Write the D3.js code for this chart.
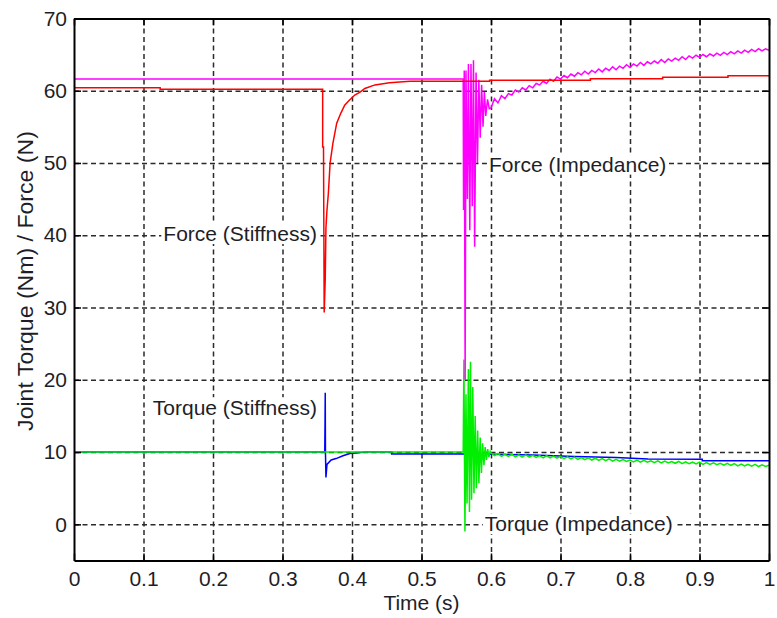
<!DOCTYPE html>
<html>
<head>
<meta charset="utf-8">
<script src="https://cdn.jsdelivr.net/npm/d3@7"></script>
<style>
  html, body { margin: 0; padding: 0; background: #fff; }
  svg text { font-family: Arial, "Liberation Sans", Helvetica, sans-serif; fill: #1e1e28; }
</style>
</head>
<body>
<svg id="chart" width="777" height="618"></svg>
<script>
// Axis ticks
const xTicks = [0, 0.1, 0.2, 0.3, 0.4, 0.5, 0.6, 0.7, 0.8, 0.9, 1];
const xTickLabels = ["0", "0.1", "0.2", "0.3", "0.4", "0.5", "0.6", "0.7", "0.8", "0.9", "1"];
const yTicks = [0, 10, 20, 30, 40, 50, 60, 70];
const yTickLabels = ["0", "10", "20", "30", "40", "50", "60", "70"];

// Force under stiffness control: [time (s), force (N)]
const forceStiffness = [
  [0, 60.4], [0.124, 60.4], [0.124, 60.2], [0.3578, 60.2], [0.3578, 52.2], [0.3590, 52.2],
  [0.3600, 29.3], [0.3615, 34.0], [0.3625, 41.0], [0.3640, 43.5], [0.3660, 45.8],
  [0.3685, 50.0], [0.3725, 52.7], [0.3780, 55.5], [0.3840, 56.9], [0.3895, 58.0],
  [0.3965, 58.7], [0.4040, 59.4], [0.4115, 59.8], [0.4185, 60.3], [0.4330, 60.8],
  [0.4540, 61.1], [0.4835, 61.3], [0.5980, 61.3], [0.5980, 61.45], [0.7430, 61.45],
  [0.7430, 61.65], [0.8470, 61.65], [0.8470, 61.85], [0.9410, 61.85], [0.9410, 62.05],
  [1.0, 62.05]
];

// Force under impedance control
const forceImpedance = [
  [0, 61.6], [0.5600, 61.6], [0.5605, 43.5], [0.5615, 62.8], [0.5628, 20.0], [0.5640, 62.8],
  [0.5660, 45.0], [0.5675, 63.7], [0.5695, 40.7], [0.5712, 63.7], [0.5730, 44.0],
  [0.5748, 64.2], [0.5765, 38.4], [0.5785, 62.5], [0.5805, 50.0], [0.5825, 61.5],
  [0.5845, 53.5], [0.5865, 60.8], [0.5885, 55.0], [0.5905, 59.8], [0.5925, 56.5],
  [0.5950, 58.8], [0.5975, 57.5],
  [0.600, 57.6], [0.605, 58.9], [0.610, 58.3], [0.615, 59.3], [0.620, 58.9], [0.625, 59.6],
  [0.630, 59.4], [0.635, 60.1], [0.640, 59.8], [0.645, 60.4], [0.650, 60.1], [0.655, 60.7],
  [0.660, 60.4], [0.665, 61.0], [0.670, 60.8], [0.675, 61.3], [0.680, 61.0], [0.685, 61.6],
  [0.690, 61.3], [0.695, 61.9], [0.700, 61.6], [0.705, 62.1], [0.710, 61.8], [0.715, 62.3],
  [0.720, 62.0], [0.725, 62.5], [0.730, 62.2], [0.735, 62.7], [0.740, 62.3], [0.745, 62.8],
  [0.750, 62.5], [0.755, 63.0], [0.760, 62.6], [0.765, 63.1], [0.770, 62.8], [0.775, 63.3],
  [0.780, 62.9], [0.785, 63.4], [0.790, 63.1], [0.795, 63.6], [0.800, 63.2], [0.805, 63.7],
  [0.810, 63.4], [0.815, 63.9], [0.820, 63.5], [0.825, 64.0], [0.830, 63.7], [0.835, 64.1],
  [0.840, 63.8], [0.845, 64.3], [0.850, 63.9], [0.855, 64.4], [0.860, 64.1], [0.865, 64.5],
  [0.870, 64.2], [0.875, 64.7], [0.880, 64.3], [0.885, 64.8], [0.890, 64.5], [0.895, 64.9],
  [0.900, 64.6], [0.905, 65.0], [0.910, 64.7], [0.915, 65.1], [0.920, 64.8], [0.925, 65.2],
  [0.930, 64.9], [0.935, 65.3], [0.940, 65.0], [0.945, 65.4], [0.950, 65.1], [0.955, 65.5],
  [0.960, 65.2], [0.965, 65.6], [0.970, 65.3], [0.975, 65.7], [0.980, 65.4], [0.985, 65.8],
  [0.990, 65.5], [0.995, 65.8], [1.000, 65.6]
];

// Joint torque under stiffness control: [time (s), torque (Nm)]
const torqueStiffness = [
  [0, 10.0], [0.3608, 10.0], [0.3612, 14.0], [0.3615, 18.2], [0.3618, 10.0], [0.3625, 6.5],
  [0.3640, 8.3], [0.3700, 8.9], [0.3770, 9.1], [0.3870, 9.5], [0.3970, 9.8], [0.4200, 10.0],
  [0.4570, 10.0], [0.4570, 9.75], [0.5600, 9.75], [0.600, 9.7], [0.660, 9.6], [0.720, 9.4],
  [0.780, 9.25], [0.826, 9.05], [0.904, 9.0], [0.904, 8.8], [1.000, 8.8]
];

// Joint torque under impedance control
const torqueImpedance = [
  [0, 10.0], [0.5600, 10.0], [0.5610, 22.8], [0.5625, -1.0], [0.5640, 18.0], [0.5655, 2.9],
  [0.5675, 21.5], [0.5690, 1.7], [0.5705, 22.5], [0.5720, 3.4], [0.5738, 19.0], [0.5755, 4.3],
  [0.5772, 15.0], [0.5790, 5.0], [0.5808, 13.0], [0.5826, 5.7], [0.5844, 12.0], [0.5862, 7.1],
  [0.5880, 11.2], [0.5898, 8.2], [0.5916, 10.7], [0.5934, 8.9], [0.5952, 10.4], [0.5970, 9.3],
  [0.5988, 10.1],
  [0.600, 9.9], [0.605, 9.5], [0.610, 9.8], [0.615, 9.4], [0.620, 9.7], [0.625, 9.4],
  [0.630, 9.7], [0.635, 9.35], [0.640, 9.6], [0.645, 9.3], [0.650, 9.6], [0.655, 9.3],
  [0.660, 9.55], [0.665, 9.25], [0.670, 9.5], [0.675, 9.2], [0.680, 9.5], [0.685, 9.2],
  [0.690, 9.45], [0.695, 9.15], [0.700, 9.4], [0.705, 9.1], [0.710, 9.35], [0.715, 9.05],
  [0.720, 9.3], [0.725, 9.0], [0.730, 9.25], [0.735, 8.95], [0.740, 9.2], [0.745, 8.9],
  [0.750, 9.15], [0.755, 8.85], [0.760, 9.1], [0.765, 8.8], [0.770, 9.05], [0.775, 8.75],
  [0.780, 9.0], [0.785, 8.75], [0.790, 8.95], [0.795, 8.7], [0.800, 8.9], [0.805, 8.65],
  [0.810, 8.9], [0.815, 8.6], [0.820, 8.85], [0.825, 8.6], [0.830, 8.8], [0.835, 8.55],
  [0.840, 8.8], [0.845, 8.5], [0.850, 8.75], [0.855, 8.5], [0.860, 8.7], [0.865, 8.45],
  [0.870, 8.7], [0.875, 8.4], [0.880, 8.65], [0.885, 8.4], [0.890, 8.6], [0.895, 8.35],
  [0.900, 8.6], [0.905, 8.3], [0.910, 8.55], [0.915, 8.3], [0.920, 8.5], [0.925, 8.25],
  [0.930, 8.45], [0.935, 8.2], [0.940, 8.45], [0.945, 8.15], [0.950, 8.4], [0.955, 8.1],
  [0.960, 8.35], [0.965, 8.1], [0.970, 8.3], [0.975, 8.05], [0.980, 8.3], [0.985, 8.0],
  [0.990, 8.25], [0.995, 8.0], [1.000, 8.2]
];

// Curve annotations: text, anchor time, anchor value, alignment
const annotations = [
  { text: "Force (Stiffness)", t: 0.3496, v: 39.2, anchor: "end" },
  { text: "Force (Impedance)", t: 0.597, v: 48.8, anchor: "start" },
  { text: "Torque (Stiffness)", t: 0.3496, v: 15.1, anchor: "end" },
  { text: "Torque (Impedance)", t: 0.591, v: -0.95, anchor: "start" }
];

const svg = d3.select("#chart");
const margin = { left: 74, right: 8, top: 18.4, bottom: 57.5 };
const W = 777, H = 618;
const plotW = W - margin.left - margin.right;
const plotH = H - margin.top - margin.bottom;

const x = d3.scaleLinear().domain([0, 1]).range([0, plotW]);
const y = d3.scaleLinear().domain([-5, 70]).range([plotH, 0]);

const g = svg.append("g").attr("transform", `translate(${margin.left},${margin.top})`);

// Dashed grid
const gridX = g.append("g").attr("class", "grid")
  .attr("transform", `translate(0,${plotH})`)
  .call(d3.axisBottom(x).tickValues(xTicks.slice(1, -1)).tickSize(-plotH).tickFormat(""));
const gridY = g.append("g").attr("class", "grid")
  .call(d3.axisLeft(y).tickValues(yTicks).tickSize(-plotW).tickFormat(""));
[gridX, gridY].forEach(s => {
  s.select(".domain").remove();
  s.selectAll("line").attr("stroke", "#2a2a2a").attr("stroke-width", 1.5).attr("stroke-dasharray", "5,3.5");
});

// Series
const line = d3.line().x(d => x(d[0])).y(d => y(d[1]));
svg.append("defs").append("clipPath").attr("id", "plotclip")
  .append("rect").attr("width", plotW).attr("height", plotH);
const series = [
  { data: torqueStiffness, color: "#0000ff" },
  { data: torqueImpedance, color: "#00ee00" },
  { data: forceImpedance, color: "#ff00ff" },
  { data: forceStiffness, color: "#ff0000" }
];
const lines = g.append("g").attr("clip-path", "url(#plotclip)");
series.forEach(s => {
  lines.append("path").datum(s.data)
    .attr("fill", "none").attr("stroke", s.color).attr("stroke-width", 1.5)
    .attr("stroke-linejoin", "miter").attr("d", line);
});

// Axes with inward ticks and a box frame
const fontPx = 21;
const xAxis = g.append("g").attr("transform", `translate(0,${plotH})`)
  .call(d3.axisBottom(x).tickValues(xTicks).tickFormat((d, i) => xTickLabels[i])
    .tickSizeInner(-7).tickSizeOuter(0).tickPadding(11));
const yAxis = g.append("g")
  .call(d3.axisLeft(y).tickValues(yTicks).tickFormat((d, i) => yTickLabels[i])
    .tickSizeInner(-7).tickSizeOuter(0).tickPadding(7));
const xTop = g.append("g")
  .call(d3.axisTop(x).tickValues(xTicks).tickFormat("").tickSizeInner(-7).tickSizeOuter(0));
const yRight = g.append("g").attr("transform", `translate(${plotW},0)`)
  .call(d3.axisRight(y).tickValues(yTicks).tickFormat("").tickSizeInner(-7).tickSizeOuter(0));
[xAxis, yAxis, xTop, yRight].forEach(a => {
  a.select(".domain").attr("stroke", "#000").attr("stroke-width", 2);
  a.selectAll(".tick line").attr("stroke", "#000").attr("stroke-width", 1.5);
  a.selectAll("text").attr("font-size", fontPx).attr("fill", "#1e1e28")
    .attr("font-family", "Arial, 'Liberation Sans', sans-serif");
});

// Axis titles
svg.append("text")
  .attr("x", margin.left + plotW / 2).attr("y", 610)
  .attr("text-anchor", "middle").attr("font-size", fontPx)
  .text("Time (s)");
svg.append("text")
  .attr("transform", `translate(33,281) scale(1,1.05) rotate(-90)`)
  .attr("text-anchor", "middle").attr("font-size", 22)
  .text("Joint Torque (Nm) / Force (N)");

// Curve annotations on white boxes that mask the grid behind them
const annot = g.selectAll("g.annot").data(annotations).enter().append("g").attr("class", "annot");
annot.append("rect").attr("fill", "#fff");
annot.append("text")
  .attr("x", d => x(d.t)).attr("y", d => y(d.v))
  .attr("text-anchor", d => d.anchor).attr("font-size", fontPx)
  .text(d => d.text);
annot.each(function () {
  const grp = d3.select(this);
  const b = grp.select("text").node().getBBox();
  grp.select("rect")
    .attr("x", b.x - 2).attr("y", b.y + 1)
    .attr("width", b.width + 4).attr("height", b.height - 2);
});
</script>
</body>
</html>
